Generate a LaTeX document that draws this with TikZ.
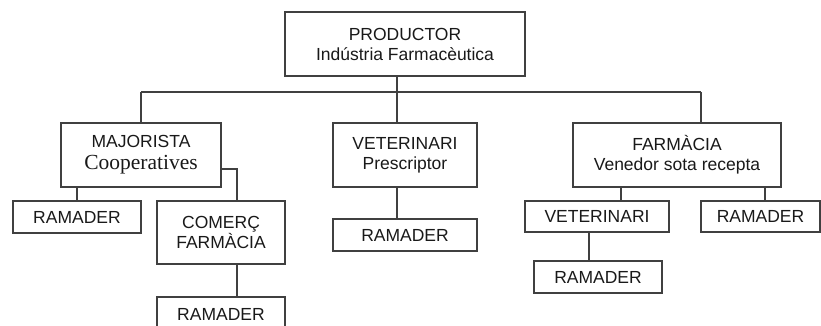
\documentclass[tikz,border=0pt]{standalone}
\usepackage{fontspec}
\setmainfont{Liberation Sans}
\newfontfamily\serifcoop{Liberation Serif}
\begin{document}
\begin{tikzpicture}[x=1pt,y=-1pt,
  box/.style={draw=black!75, line width=1.3pt, inner sep=0pt, align=center,
    font=\fontsize{17.5}{20}\selectfont, text=black!90},
  conn/.style={draw=black!75, line width=1.3pt}]
\useasboundingbox (0,0) rectangle (821,325);
\clip (0,0) rectangle (821,325);
% level 0
\node[box, minimum width=240, minimum height=64] (prod) at (405,44) {PRODUCTOR\\Indústria Farmacèutica};
% level 1
\node[box, minimum width=160, minimum height=64] (maj) at (141,155)
  {MAJORISTA\\[2pt]{\serifcoop\fontsize{21.5}{22}\selectfont Cooperatives}};
\node[box, minimum width=144, minimum height=64] (vet) at (405,155) {VETERINARI\\Prescriptor};
\node[box, minimum width=208, minimum height=64] (farm) at (677,155) {FARMÀCIA\\Venedor sota recepta};
% level 2
\node[box, minimum width=128, minimum height=32] (ram1) at (77,217) {RAMADER};
\node[box, minimum width=128, minimum height=63] (com) at (221,232.5) {COMERÇ\\FARMÀCIA};
\node[box, minimum width=128, minimum height=43] (ram2) at (221,318.5) {};
\node[font=\fontsize{17.5}{20}\selectfont, text=black!90, inner sep=0pt, anchor=base] (ram2t) at (221,320) {RAMADER};
\node[box, minimum width=144, minimum height=32] (ramv) at (405,235) {RAMADER};
\node[box, minimum width=144, minimum height=31] (vet2) at (597,216.5) {VETERINARI};
\node[box, minimum width=119, minimum height=31] (ramf) at (760.5,216.5) {RAMADER};
\node[box, minimum width=128, minimum height=32] (ram3) at (598,277) {RAMADER};
% coordinates
\coordinate (bm) at (397,92);
\coordinate (bl) at (141,92);
\coordinate (br) at (701,92);
\coordinate (mc) at (237,169);
% connectors
\draw[conn] (prod.south -| bm) -- (bm);
\draw[conn] (bl) -- (br);
\draw[conn] (bl) -- (maj.north);
\draw[conn] (bm) -- (vet.north -| bm);
\draw[conn] (br) -- (farm.north -| br);
\draw[conn] (maj.south -| ram1) -- (ram1.north);
\draw[conn] (maj.east |- mc) -- (mc) -- (com.north -| mc);
\draw[conn] (com.south -| mc) -- (ram2.north -| mc);
\draw[conn] (vet.south -| bm) -- (ramv.north -| bm);
\draw[conn] (farm.south -| 621,0) -- (vet2.north -| 621,0);
\draw[conn] (farm.south -| 765,0) -- (ramf.north -| 765,0);
\draw[conn] (vet2.south -| 589,0) -- (ram3.north -| 589,0);
\end{tikzpicture}
\end{document}
